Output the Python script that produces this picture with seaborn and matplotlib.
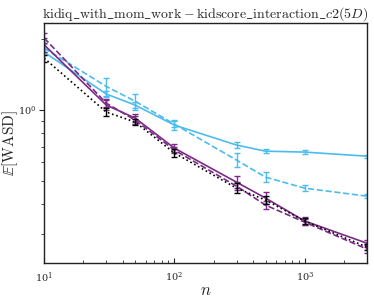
import numpy as np
import pandas as pd
import seaborn as sns
import matplotlib.pyplot as plt

# data (log-log axes)
N_VALUES = [10, 30, 50, 100, 300, 500, 1000, 3000]

BLUE_SOLID = [1.76, 1.17, 1.05, 0.864, 0.711, 0.670, 0.664, 0.638]
BLUE_SOLID_ERR = [0.05, 0.035, 0.03, 0.042, 0.02, 0.013, 0.012, 0.009]

BLUE_DASHED = [1.83, 1.26, 1.09, 0.872, 0.614, 0.520, 0.467, 0.432]
BLUE_DASHED_ERR = [0.07, 0.11, 0.085, 0.026, 0.042, 0.025, 0.014, 0.008]

PURPLE_SOLID = [1.89, 1.05, 0.925, 0.690, 0.495, 0.424, 0.339, 0.273]
PURPLE_SOLID_ERR = [0.13, 0.05, 0.036, 0.027, 0.029, 0.025, 0.013, 0.01]

PURPLE_DASHED = [2.02, 1.07, 0.907, 0.677, 0.476, 0.396, 0.335, 0.258]
PURPLE_DASHED_ERR = [0.1, 0.04, 0.035, 0.02, 0.019, 0.015, 0.01, 0.01]

BLACK_DOTTED = [1.66, 0.981, 0.89, 0.658, 0.467, 0.416, 0.339, 0.263]
BLACK_DOTTED_ERR = [0.06, 0.038, 0.026, 0.026, 0.023, 0.016, 0.01, 0.008]

BLUE = '#4cbcec'
PURPLE = '#7b2a86'

series = [
    ('blue_solid', BLUE_SOLID, BLUE_SOLID_ERR, BLUE, '-'),
    ('blue_dashed', BLUE_DASHED, BLUE_DASHED_ERR, BLUE, '--'),
    ('purple_solid', PURPLE_SOLID, PURPLE_SOLID_ERR, PURPLE, '-'),
    ('purple_dashed', PURPLE_DASHED, PURPLE_DASHED_ERR, PURPLE, '--'),
    ('black_dotted', BLACK_DOTTED, BLACK_DOTTED_ERR, 'black', ':'),
]

rows = []
for name, vals, errs, _, _ in series:
    for n, v, e in zip(N_VALUES, vals, errs):
        rows.append({'name': name, 'n': n, 'wasd': v, 'err': e})
df = pd.DataFrame(rows)

sns.set_style('white')
plt.rcParams['font.family'] = ['DejaVu Serif']
plt.rcParams['mathtext.fontset'] = 'cm'

fig = plt.figure(figsize=(3.74, 3.02), dpi=100)
ax = fig.add_axes([0.118, 0.129, 0.863, 0.795])

for name, _, _, color, ls in series:
    sub = df[df['name'] == name]
    sns.lineplot(data=sub, x='n', y='wasd', ax=ax, color=color,
                 linestyle=ls, linewidth=1.2, legend=False)
    ax.errorbar(sub['n'], sub['wasd'], yerr=sub['err'], fmt='none',
                ecolor=color, elinewidth=1.0, capsize=2.5, capthick=1.0)

ax.set_xscale('log')
ax.set_yscale('log')
ax.set_xlim(10, 3000)
ax.set_ylim(0.225, 2.34)

for sp in ax.spines.values():
    sp.set_color('#222222')
    sp.set_linewidth(1.0)

ax.tick_params(axis='x', which='both', direction='in', bottom=True, labelsize=7, pad=5)
ax.tick_params(axis='y', which='both', direction='out', left=True, labelsize=7, pad=2)
ax.tick_params(which='major', length=3.5)
ax.tick_params(which='minor', length=2)

ax.set_title(r'$\mathrm{kidiq\_with\_mom\_work} - \mathrm{kidscore\_interaction\_}c2(5D)$',
             fontsize=10, pad=4)
ax.set_xlabel(r'$n$', fontsize=12)
ax.set_ylabel(r'$\mathbb{E}[\mathrm{WASD}]$', fontsize=11)
ax.xaxis.set_label_coords(0.5, -0.08)
ax.yaxis.set_label_coords(-0.075, 0.5)

fig.savefig('out.png', dpi=100)
